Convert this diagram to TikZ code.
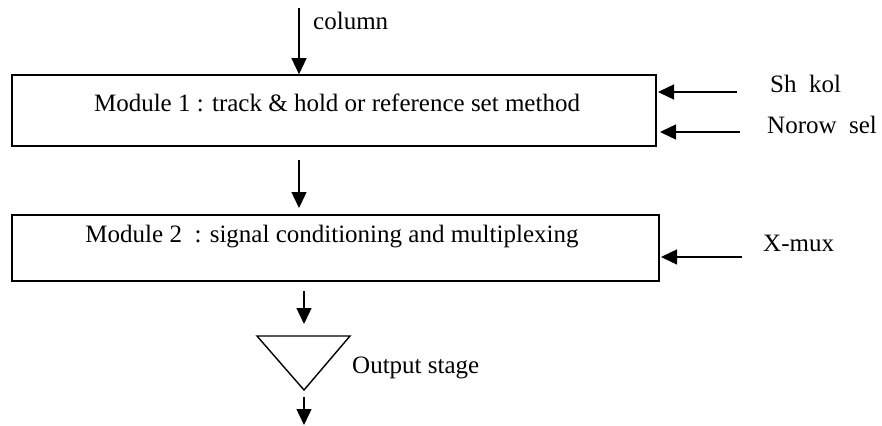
\documentclass[tikz,border=0pt]{standalone}
\usepackage{fontspec}
\setmainfont{Liberation Serif}
\usetikzlibrary{arrows.meta}
\begin{document}
\begin{tikzpicture}[x=1pt,y=-1pt,
  box/.style={draw, line width=1.6pt, inner sep=0pt},
  arr/.style={line width=1.4pt, -{Triangle[length=16pt,width=15pt]}},
  txt/.style={font=\fontsize{25}{30}\selectfont, inner sep=0pt}]
\useasboundingbox (0,0) rectangle (882,425);
% boxes
\node[box, minimum width=644pt, minimum height=71pt] (m1) at (334,110.5) {};
\node[box, minimum width=647pt, minimum height=66pt] (m2) at (335.5,248) {};
\node[txt] (m1t) at (337,103) {Module 1 : track \& hold or reference set method};
\node[txt] (m2t) at (332,237) {Module 2\ \ : signal conditioning and multiplexing};
% column input
\coordinate (cin) at (299,8);
\draw[arr] (cin) -- (cin |- m1.north);
\node[txt, anchor=mid west] (col) at (313,27) {column};
% between modules
\coordinate (a1) at (299,160);
\coordinate (a2) at (299,208);
\draw[arr] (a1) -- (a2);
% side inputs
\coordinate (sh) at (737,92);
\coordinate (shT) at (658,92);
\draw[arr] (sh) -- (shT);
\node[txt, anchor=mid west] (shl) at (770,90) {Sh\ \ kol};
\coordinate (nr) at (740,132);
\coordinate (nrT) at (660,132);
\draw[arr] (nr) -- (nrT);
\node[txt, anchor=mid west] (nrl) at (767,131) {Norow\ \ sel};
\coordinate (xm) at (742,257);
\coordinate (xmT) at (661,257);
\draw[arr] (xm) -- (xmT);
\node[txt, anchor=mid west] (xml) at (763,249) {X-mux};
% output stage
\coordinate (b1) at (304,291);
\coordinate (b2) at (304,324);
\draw[arr] (b1) -- (b2);
\coordinate (tl) at (257,336);
\coordinate (tr) at (350,336);
\coordinate (ap) at (304,390);
\draw[line width=1.4pt, line join=miter] (tl) -- (tr) -- (ap) -- cycle;
\node[txt, anchor=mid west] (osl) at (352,371) {Output stage};
\coordinate (c1) at (304,397);
\coordinate (c2) at (304,425);
\draw[arr] (c1) -- (c2);
\end{tikzpicture}
\end{document}
